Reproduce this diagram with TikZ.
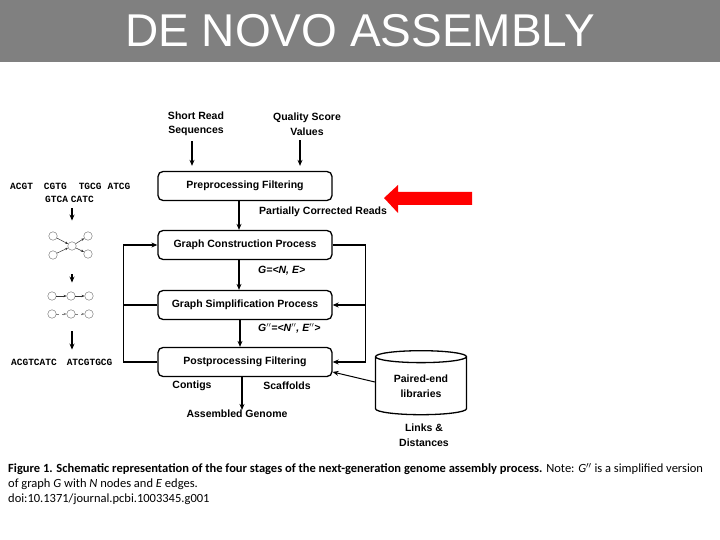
\documentclass[tikz,border=0pt]{standalone}
\usepackage{fontspec}
\setmainfont{Liberation Sans}
\setmonofont{Liberation Mono}
\newfontfamily\capfont{Carlito}
\usetikzlibrary{positioning,arrows.meta,calc,shapes.geometric}
\tikzset{
  >=Stealth,
}

\begin{document}
\begin{tikzpicture}[
  x=1pt,y=-1pt,
  every node/.style={font=\fontsize{10.5}{14.5}\selectfont\bfseries},
  proc/.style={draw,rounded corners=5pt,line width=1.3pt,minimum width=174pt,minimum height=29pt,inner sep=0pt},
  lab/.style={inner sep=0pt,align=center},
  seq/.style={font=\fontsize{9.5}{11}\selectfont\ttfamily\bfseries,inner sep=0pt,anchor=west},
  vx/.style={draw=black!60,circle,minimum size=8.5pt,inner sep=0pt,line width=0.4pt},
  ed/.style={->,>={Stealth[length=3pt,width=2.5pt]},line width=0.5pt,black!80},
  flow/.style={->,line width=1.3pt,>={Stealth[length=6pt,width=5pt]}},
  back/.style={line width=1.6pt}
]
\useasboundingbox (0,0) rectangle (720,540);

% title bar
\fill[black!50] (0,0) rectangle (720,62);
\node[font=\fontsize{46}{50}\selectfont,text=white] (title) at (360,31) {DE NOVO ASSEMBLY};

% inputs
\node[lab] (srs) at (196,124) {Short Read\\Sequences};
\node[lab] (qsv) at (307,124) {Quality Score\\Values};

% the four stages
\node[proc] (pre) at (245,186) {Preprocessing Filtering};
\node[proc] (con) at (245,245) {Graph Construction Process};
\node[proc] (sim) at (245,305) {Graph Simplification Process};
\node[proc] (post) at (245,362) {Postprocessing Filtering};

\draw[flow,shorten <=5pt,shorten >=5pt] ([xshift=-4pt]srs.south) -- ([xshift=-4pt]srs.south |- pre.north);
\draw[flow,shorten <=5pt,shorten >=5pt] ([xshift=-7pt]qsv.south) -- ([xshift=-7pt]qsv.south |- pre.north);

\draw[flow] ([xshift=-6pt]pre.south) -- ([xshift=-6pt]con.north);
\draw[flow] ([xshift=-6pt]con.south) -- ([xshift=-6pt]sim.north);
\draw[flow] ([xshift=-5pt]sim.south) -- ([xshift=-5pt]post.north);

\node[lab,anchor=west] (pcr) at (259,212) {Partially Corrected Reads};
\node[lab,anchor=west,font=\fontsize{10.5}{12}\selectfont\bfseries\itshape] (g) at (258,271) {G=<N, E>};
\node[lab,anchor=west,font=\fontsize{10.5}{12}\selectfont\bfseries\itshape] (gs) at (258,328) {G$''$=<N$''$, E$''$>};

% outputs
\node[lab] (ctg) at (192,386) {Contigs};
\node[lab] (scf) at (287,386) {Scaffolds};
\node[lab] (asm) at (237,414) {Assembled Genome};
\draw[flow] ([xshift=-3pt]post.south) -- ([xshift=-3pt]post.south |- asm.north);

% feedback lines
\draw[flow,back] (post.west) -- ++(-34,0) |- (con.west);
\draw[back] (sim.west) -- ++(-34,0);
\draw[flow,back] (con.east) -- ++(33,0) |- (post.east);
\draw[flow,back] ($(con.east)+(33,0)$) |- (sim.east);

% paired-end libraries
\node[draw,cylinder,shape border rotate=90,aspect=0.22,line width=1.3pt,
  minimum width=91pt,minimum height=64pt,align=center,inner sep=0pt] (pe) at (421,386)
  {Paired-end\\libraries};
\node[lab] (lnk) at (424,435) {Links \&\\Distances};
\draw[flow,line width=1pt] ([yshift=4pt]pe.west) -- ([yshift=-10pt]post.east);

% red marker
\fill[red] (384,198) -- (398,185) -- (398,192) -- (472,192) -- (472,205)
  -- (398,205) -- (398,213) -- cycle;

% left column example
\node[seq] (rd1) at (10,186) {ACGT\hspace{11pt}CGTG\hspace{12pt}TGCG\hspace{6pt}ATCG};
\node[seq] (rd2) at (45,199) {GTCA\hspace{3pt}CATC};

\node[vx] (a1) at (53,236) {};
\node[vx] (b1) at (53,255) {};
\node[vx] (m1) at (72,246) {};
\node[vx] (c1) at (88,236) {};
\node[vx] (d1) at (88,254) {};
\draw[ed] (a1) -- (m1);
\draw[ed] (b1) -- (m1);
\draw[ed] (m1) -- (c1);
\draw[ed] (m1) -- (d1);

\node[vx] (a2) at (52,296) {};
\node[vx] (b2) at (71,296) {};
\node[vx] (c2) at (89,296) {};
\node[vx] (a3) at (52,314) {};
\node[vx] (b3) at (71,314) {};
\node[vx] (c3) at (89,314) {};
\draw[ed] (a2) -- (b2);
\draw[ed] (b2) -- (c2);
\draw[ed,dashed,black!50] (a3) -- (b3);
\draw[ed,dashed,black!50] (b3) -- (c3);

\node[seq] (ctg2) at (11,362) {ACGTCATC\hspace{10pt}ATCGTGCG};

\draw[flow,line width=1.1pt,shorten <=6pt,shorten >=11pt] (rd2.south -| m1) -- (a1.north -| m1);
\draw[flow,line width=1.1pt,shorten <=15pt,shorten >=9pt] (b1.south -| m1) -- (a2.north -| m1);
\draw[flow,line width=1.1pt,shorten <=13pt,shorten >=9pt] (a3.south -| m1) -- (ctg2.north -| m1);

% caption
\node[anchor=north west,align=left,inner sep=0pt,font=\capfont\fontsize{12.5}{15}\selectfont] (cap) at (8,463)
  {\textbf{Figure 1. Schematic representation of the four stages of the next-generation genome assembly process.} Note: \textit{G}$''$ is a simplified version\\
   of graph \textit{G} with \textit{N} nodes and \textit{E} edges.\\
   doi:10.1371/journal.pcbi.1003345.g001};

\end{tikzpicture}
\end{document}
